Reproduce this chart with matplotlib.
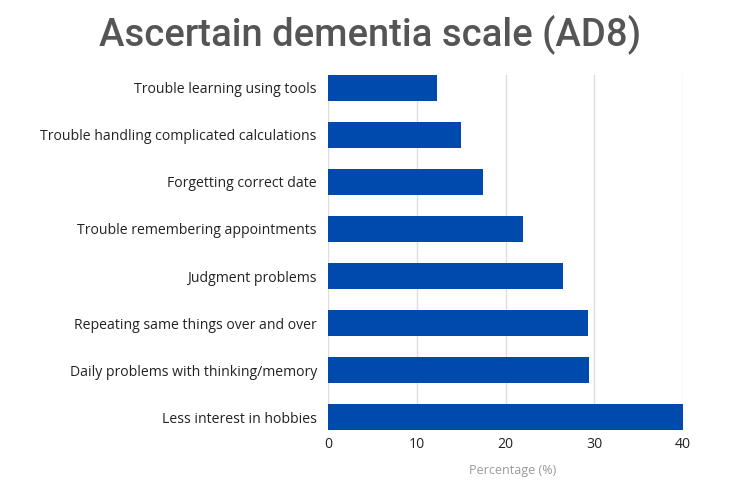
import matplotlib.pyplot as plt

# -----------------------------
# Data
# -----------------------------
items = [
    "Trouble learning using tools",
    "Trouble handling complicated calculations",
    "Forgetting correct date",
    "Trouble remembering appointments",
    "Judgment problems",
    "Repeating same things over and over",
    "Daily problems with thinking/memory",
    "Less interest in hobbies",
]
percent = [12.3, 15.0, 17.5, 22.0, 26.5, 29.3, 29.4, 40.0]
xticks = [0, 10, 20, 30, 40]

bar_h = 0.55

fig = plt.figure(figsize=(7.5, 4.98), dpi=100)
ax = fig.add_axes([0.4373, 0.1365, 0.4734, 0.7129])

ypos = list(range(len(items)))
ax.barh(ypos, percent, height=bar_h, color='#004aad', zorder=3)
ax.set_ylim(len(items) - 1 + bar_h / 2, -bar_h / 2)
ax.set_xlim(0, 40)

ax.set_yticks(ypos)
ax.set_yticklabels(items, fontfamily='Open Sans', fontsize=10.1, color='#222222')
ax.set_xticks(xticks)
ax.set_xticklabels([str(t) for t in xticks], fontfamily='Open Sans',
                   fontsize=10.1, color='#222222')
ax.tick_params(axis='both', length=0)
ax.tick_params(axis='y', pad=8)
ax.tick_params(axis='x', pad=5)

ax.grid(axis='x', color='#dddddd', lw=1, zorder=0)
for s in ax.spines.values():
    s.set_visible(False)

ax.set_xlabel("Percentage (%)", fontfamily='Open Sans', fontsize=9,
              color='#999999')
ax.xaxis.set_label_coords(0.52, -0.095)

fig.text(0.494, 0.932, "Ascertain dementia scale (AD8)", ha='center', va='center',
         fontfamily='Roboto', fontweight='medium', fontsize=27.5, color='#555555')

fig.savefig("out.png", dpi=100, facecolor='white')
